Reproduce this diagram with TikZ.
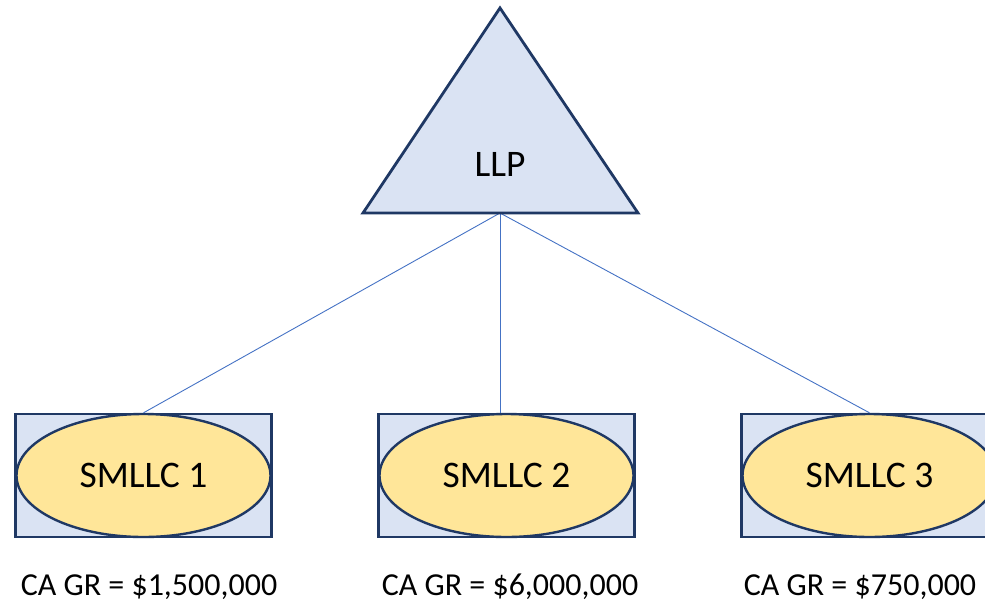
\documentclass[tikz,border=0pt]{standalone}
\usepackage{fontspec}
\setmainfont{Carlito}
\usetikzlibrary{positioning,shapes.geometric}
\definecolor{paleblue}{HTML}{DAE3F3}
\definecolor{navy}{HTML}{1F3864}
\definecolor{pale gold}{HTML}{FFE699}
\definecolor{linkblue}{HTML}{4472C4}

\begin{document}
\begin{tikzpicture}[x=1pt,y=-1pt,
                box/.style = {draw=navy, line width=2.4pt, fill=paleblue, minimum width=256pt, minimum height=123pt, inner sep=0pt},
                llc/.style = {draw=navy, line width=2.4pt, fill=pale gold, ellipse, minimum width=254pt, minimum height=123pt, inner sep=0pt, font=\fontsize{37.5}{42}\selectfont},
                gr/.style = {anchor=base, inner sep=0pt, font=\fontsize{32}{38}\selectfont},
                link/.style = {color=linkblue, line width=0.9pt}]
                \useasboundingbox (0,0) rectangle (985,603);
                % the three single member LLCs
                \node[box] (b1) at (143.5,475.5) {};
                \node[box] (b2) at (506.5,475.5) {};
                \node[box] (b3) at (869.5,475.5) {};
                \node[llc] (1) at (b1) {SMLLC 1};
                \node[llc] (2) at (b2) {SMLLC 2};
                \node[llc] (3) at (b3) {SMLLC 3};
                \node[gr] (g1) at (149,595) {CA GR = \$1,500,000};
                \node[gr] (g2) at (510,595) {CA GR = \$6,000,000};
                \node[gr] (g3) at (860,595) {CA GR = \$750,000};
                % the LLP on top
                \coordinate (base) at (500,213);
                \path[link]
                    (base) edge (b1.north)
                    (base) edge (b2.north -| base)
                    (base) edge (b3.north);
                \draw[draw=navy, fill=paleblue, line width=2.8pt] (500,8) -- (638,213) -- (363,213) -- cycle;
                \node[font=\fontsize{37.5}{42}\selectfont] (llp) at (500,164) {LLP};
            \end{tikzpicture}
\end{document}
